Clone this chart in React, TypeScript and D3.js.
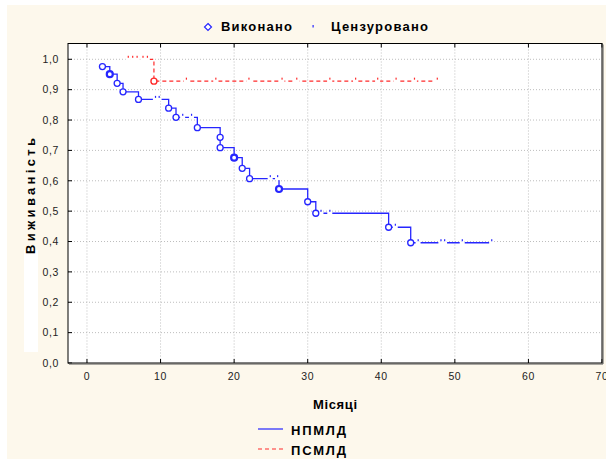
import * as d3 from 'd3'

// НПМЛД: event times (months) and survival after each event
const npmldEventT = [2.1, 3.1, 4.1, 4.9, 7.0, 11.1, 12.1, 15.0, 18.1, 18.1, 20.0, 21.1, 22.1, 26.1, 30.0, 31.1, 41.0, 44.0]
const npmldEventS = [0.976, 0.951, 0.921, 0.893, 0.868, 0.839, 0.809, 0.775, 0.743, 0.709, 0.676, 0.641, 0.607, 0.573, 0.531, 0.493, 0.447, 0.396]
const npmldHeavy = [3.1, 20.0, 26.1]
const npmldCensorT = [9.3, 9.8, 13.0, 14.2, 24.9, 25.9, 31.8, 33.0, 41.9, 45.0, 48.1, 48.6, 51.0, 55.0]
const npmldEndT = 55.0

// ПСМЛД
const psmldStartT = 5.6
const psmldEventT = [9.1]
const psmldEventS = [0.928]
const psmldCensorT = [5.6, 6.2, 6.8, 7.6, 8.2, 13.5, 17.5, 22.0, 26.5, 28.5, 33.0, 36.5, 39.5, 42.0, 44.5, 47.6]
const psmldEndT = 47.6

const xTicks = [0, 10, 20, 30, 40, 50, 60, 70]
const yTicks = [0, 0.1, 0.2, 0.3, 0.4, 0.5, 0.6, 0.7, 0.8, 0.9, 1.0]

const W = 606
const H = 459
const left = 68
const right = 602
const top = 43.5
const bottom = 363

const BLUE = '#2626ff'
const RED = '#ff2a2a'
const FONT = '"Liberation Sans", Arial, sans-serif'

type Pt = { t: number; s: number }

// survival at time t for a step curve
const survAt = (t: number, start: number, times: number[], vals: number[]) => {
  let s = start
  times.forEach((et, i) => {
    if (et <= t) s = vals[i]
  })
  return s
}

export default function App() {
  const x = d3.scaleLinear().domain([-2.58, 70]).range([left, right])
  const y = d3.scaleLinear().domain([0, 1.052]).range([bottom, top])

  const line = d3
    .line<Pt>()
    .x((d) => x(d.t))
    .y((d) => y(d.s))
    .curve(d3.curveStepAfter)

  const bluePts: Pt[] = npmldEventT.map((t, i) => ({ t, s: npmldEventS[i] }))
  bluePts.push({ t: npmldEndT, s: npmldEventS[npmldEventS.length - 1] })

  const redPts: Pt[] = [{ t: psmldStartT, s: 1 }]
  psmldEventT.forEach((t, i) => redPts.push({ t, s: psmldEventS[i] }))
  redPts.push({ t: psmldEndT, s: psmldEventS[psmldEventS.length - 1] })

  const censor = (t: number, s: number, color: string, key: string) => (
    <g key={key}>
      <rect x={x(t) - 2.5} y={y(s) - 1.5} width={5} height={3} fill="#fff" />
      <rect x={x(t) - 0.5} y={y(s) - 3.5} width={1.2} height={2} fill={color} />
    </g>
  )

  return (
    <div style={{ position: 'absolute', left: 0, top: 0 }}>
      <svg width={W} height={H} style={{ display: 'block' }}>
        <rect x={0} y={0} width={W} height={H} fill="#fff" />
        <rect x={7} y={5} width={W - 7} height={H - 5} fill="#fdf8ec" />
        <rect x={left} y={top} width={right - left} height={bottom - top} fill="#fff" />
        <rect x={24} y={250} width={14} height={102} fill="#fff" />

        {/* grid */}
        {xTicks.filter((t) => t < 70).map((t) => (
          <line key={'gx' + t} x1={x(t)} x2={x(t)} y1={top} y2={bottom} stroke="#bdbdbd" strokeDasharray="1,2" />
        ))}
        {yTicks.filter((t) => t > 0).map((t) => (
          <line key={'gy' + t} x1={left} x2={right} y1={y(t)} y2={y(t)} stroke="#bdbdbd" strokeDasharray="1,2" />
        ))}

        {/* ticks */}
        {xTicks.map((t) => (
          <g key={'tx' + t}>
            <line x1={x(t)} x2={x(t)} y1={bottom} y2={bottom - 4} stroke="#000" />
            <line x1={x(t)} x2={x(t)} y1={top} y2={top + 4} stroke="#000" />
            <text x={x(t)} y={380} textAnchor="middle" fontSize={10.5} fontFamily={FONT} fill="#222" letterSpacing={0.6}>
              {t}
            </text>
          </g>
        ))}
        {yTicks.map((t) => (
          <g key={'ty' + t}>
            <line x1={left} x2={left + 4} y1={y(t)} y2={y(t)} stroke="#000" />
            <text x={59} y={y(t) + 3.8} textAnchor="end" fontSize={10.5} fontFamily={FONT} fill="#222" letterSpacing={0.6}>
              {t.toFixed(1).replace('.', ',')}
            </text>
          </g>
        ))}

        {/* ПСМЛД */}
        <path d={line(redPts) || undefined} fill="none" stroke={RED} strokeWidth={1.2} strokeDasharray="4,3" />
        {psmldCensorT.map((t, i) => censor(t, survAt(t, 1, psmldEventT, psmldEventS), RED, 'rc' + i))}
        {psmldEventT.map((t, i) => (
          <circle key={'re' + i} cx={x(t)} cy={y(psmldEventS[i])} r={3} fill="#fff" stroke={RED} strokeWidth={1.4} />
        ))}

        {/* НПМЛД */}
        <path d={line(bluePts) || undefined} fill="none" stroke={BLUE} strokeWidth={1.3} />
        {npmldCensorT.map((t, i) =>
          censor(t, survAt(t, 1, npmldEventT, npmldEventS), BLUE, 'bc' + i)
        )}
        {npmldEventT.map((t, i) => (
          <circle
            key={'be' + i}
            cx={x(t)}
            cy={y(npmldEventS[i])}
            r={3}
            fill="#fff"
            stroke={BLUE}
            strokeWidth={npmldHeavy.includes(t) ? 2.2 : 1.3}
          />
        ))}

        {/* frame */}
        <rect x={left} y={top} width={right - left} height={bottom - top} fill="none" stroke="#000" />
        <line x1={right + 1} x2={right + 1} y1={top + 1} y2={bottom + 1} stroke="#555" />
        <line x1={left + 1} x2={right + 1} y1={bottom + 1} y2={bottom + 1} stroke="#555" />

        {/* top legend */}
        <path d="M208,23.5 L211.5,27 L208,30.5 L204.5,27 Z" fill="#fff" stroke={BLUE} strokeWidth={1.2} />
        <text x={221} y={31} fontSize={13} fontWeight="bold" fontFamily={FONT} textLength={71} lengthAdjust="spacing">
          Виконано
        </text>
        <rect x={312.5} y={25} width={1.2} height={2.5} fill={BLUE} />
        <text x={331} y={31} fontSize={13} fontWeight="bold" fontFamily={FONT} textLength={97} lengthAdjust="spacing">
          Цензуровано
        </text>

        {/* axis titles */}
        <text
          transform="translate(35,196) rotate(-90)"
          textAnchor="middle"
          fontSize={13}
          fontWeight="bold"
          fontFamily={FONT}
          textLength={116}
          lengthAdjust="spacing"
        >
          Виживаність
        </text>
        <text x={313} y={409} fontSize={13} fontWeight="bold" fontFamily={FONT} textLength={44} lengthAdjust="spacing">
          Місяці
        </text>

        {/* bottom legend */}
        <line x1={258} x2={283} y1={429} y2={429} stroke={BLUE} strokeWidth={1.2} />
        <text x={291} y={434.5} fontSize={13} fontWeight="bold" fontFamily={FONT} textLength={55} lengthAdjust="spacing">
          НПМЛД
        </text>
        <line x1={258} x2={283} y1={449} y2={449} stroke={RED} strokeWidth={1.2} strokeDasharray="4,3" />
        <text x={291} y={454.5} fontSize={13} fontWeight="bold" fontFamily={FONT} textLength={55} lengthAdjust="spacing">
          ПСМЛД
        </text>
      </svg>
    </div>
  )
}
